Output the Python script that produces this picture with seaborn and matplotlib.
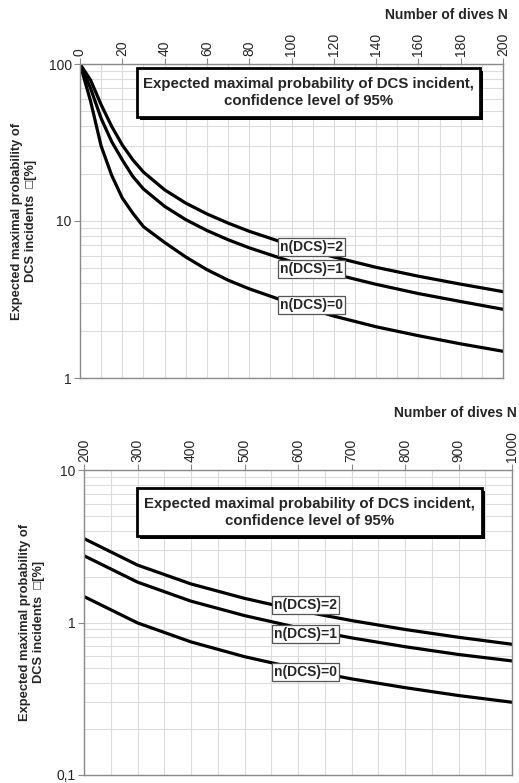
import numpy as np
import pandas as pd
import matplotlib
matplotlib.use('Agg')
import matplotlib.pyplot as plt
import matplotlib.ticker as mticker
from matplotlib.patches import Rectangle
import seaborn as sns

# ------------------------------------------------------------------
# Data (percent)
# ------------------------------------------------------------------
n_top = [0, 5, 10, 15, 20, 25, 30, 40, 50, 60, 70, 80, 100, 120, 140, 160, 180, 200]
p0_top = [100, 58, 30, 19.5, 14.0, 11.2, 9.2, 7.3, 5.9, 4.9, 4.2, 3.7, 2.98, 2.48, 2.12, 1.86, 1.65, 1.48]
p1_top = [100, 70, 45, 32, 24.5, 19.2, 16.0, 12.4, 10.2, 8.7, 7.6, 6.75, 5.5, 4.6, 3.95, 3.45, 3.07, 2.74]
p2_top = [100, 79, 55, 40, 30.5, 24.5, 20.5, 15.8, 13.0, 11.1, 9.7, 8.6, 7.0, 5.9, 5.07, 4.45, 3.96, 3.55]

n_bot = [200, 300, 400, 500, 600, 700, 800, 900, 1000]
p0_bot = [1.48, 0.994, 0.746, 0.597, 0.498, 0.427, 0.374, 0.332, 0.30]
p1_bot = [2.74, 1.84, 1.38, 1.11, 0.925, 0.793, 0.694, 0.617, 0.56]
p2_bot = [3.55, 2.38, 1.79, 1.44, 1.20, 1.03, 0.90, 0.80, 0.72]

series_names = ['n(DCS)=0', 'n(DCS)=1', 'n(DCS)=2']

title_txt = 'Expected maximal probability of DCS incident,\nconfidence level of 95%'
xlab_txt = 'Number of dives N'
ylab_txt = 'Expected maximal probability of\nDCS incidents  \u25a1[%]'


def to_long(n, cols):
    frames = []
    for name, vals in zip(series_names, cols):
        frames.append(pd.DataFrame({'N': n, 'p': vals, 'serie': name}))
    return pd.concat(frames, ignore_index=True)


df_top = to_long(n_top, [p0_top, p1_top, p2_top])
df_bot = to_long(n_bot, [p0_bot, p1_bot, p2_bot])

sns.set_style('white')
plt.rcParams['font.family'] = ['Liberation Sans', 'DejaVu Sans']

fig = plt.figure(figsize=(5.19, 7.83), dpi=100)
ax1 = fig.add_axes([80 / 519, 1 - 378 / 783, 423 / 519, 314 / 783])
ax2 = fig.add_axes([84 / 519, 1 - 775 / 783, 428 / 519, 305 / 783])

pal = {s: 'black' for s in series_names}
grid_col = '#dcdcdc'
spine_col = '#8a8a8a'


def style_axes(ax, xlim, ylim, xmaj, xmin):
    ax.set_yscale('log')
    ax.set_xlim(*xlim)
    ax.set_ylim(*ylim)
    ax.xaxis.tick_top()
    ax.xaxis.set_major_locator(mticker.MultipleLocator(xmaj))
    ax.xaxis.set_minor_locator(mticker.MultipleLocator(xmin))
    ax.yaxis.set_major_locator(mticker.LogLocator(base=10))
    ax.yaxis.set_minor_locator(mticker.LogLocator(base=10, subs=np.arange(2, 10)))
    ax.yaxis.set_minor_formatter(mticker.NullFormatter())
    ax.yaxis.set_major_formatter(mticker.FuncFormatter(
        lambda v, pos: ('%g' % v).replace('.', ',')))
    ax.grid(True, which='both', color=grid_col, lw=0.8)
    ax.set_axisbelow(True)
    for sp in ax.spines.values():
        sp.set_color(spine_col)
        sp.set_linewidth(1.0)
    ax.tick_params(axis='x', which='major', top=True, bottom=False, direction='out',
                   length=4, color=spine_col, labelsize=10, rotation=90, pad=2)
    ax.tick_params(axis='x', which='minor', top=False, bottom=False)
    ax.tick_params(axis='y', which='major', left=True, direction='out',
                   length=4, color=spine_col, labelsize=10, pad=2)
    ax.tick_params(axis='y', which='minor', left=False)
    ax.set_xlabel('')
    ax.set_ylabel('')


def add_title_box(ax, x0, y0, x1, y1):
    shadow = Rectangle((x0, y0), x1 - x0, y1 - y0, fc='black', ec='black', lw=0, zorder=5)
    shadow.set_transform(ax.transAxes + matplotlib.transforms.ScaledTranslation(
        3 / 100, -3 / 100, fig.dpi_scale_trans))
    ax.add_patch(shadow)
    ax.add_patch(Rectangle((x0, y0), x1 - x0, y1 - y0, transform=ax.transAxes,
                           fc='white', ec='black', lw=2, zorder=6))
    ax.text((x0 + x1) / 2, (y0 + y1) / 2, title_txt, transform=ax.transAxes,
            ha='center', va='center', multialignment='center', fontsize=10.8,
            fontweight='bold', linespacing=1.3, zorder=7)


def add_labels(ax, xs, ys):
    for name, x, y in zip(series_names, xs, ys):
        ax.text(x, y, name, ha='center', va='center', fontsize=10, fontweight='bold',
                zorder=8,
                bbox=dict(boxstyle='square,pad=0.15', fc='white', ec='#555555', lw=0.9))


# top panel
sns.lineplot(data=df_top, x='N', y='p', hue='serie', palette=pal, lw=2.3,
             legend=False, ax=ax1)
style_axes(ax1, (0, 200), (1, 100), 20, 10)
add_title_box(ax1, 0.135, 0.831, 0.946, 0.987)
add_labels(ax1, [109.5, 109.5, 109.5], [2.92, 4.94, 6.83])

# bottom panel
sns.lineplot(data=df_bot, x='N', y='p', hue='serie', palette=pal, lw=2.3,
             legend=False, ax=ax2)
style_axes(ax2, (200, 1000), (0.1, 10), 100, 50)
add_title_box(ax2, 0.124, 0.782, 0.930, 0.941)
add_labels(ax2, [614, 614, 614], [0.476, 0.84, 1.30])

# axis titles
fig.text(508 / 519, 1 - 15 / 783, xlab_txt, ha='right', va='center',
         fontsize=10, fontweight='bold')
fig.text(517 / 519, 1 - 413 / 783, xlab_txt, ha='right', va='center',
         fontsize=10, fontweight='bold')
fig.text(24 / 519, 1 - 221 / 783, ylab_txt, rotation=90, ha='center', va='center',
         multialignment='center', fontsize=9.3, fontweight='bold')
fig.text(32 / 519, 1 - 622 / 783, ylab_txt, rotation=90, ha='center', va='center',
         multialignment='center', fontsize=9.3, fontweight='bold')

fig.savefig('out.png', dpi=100)
